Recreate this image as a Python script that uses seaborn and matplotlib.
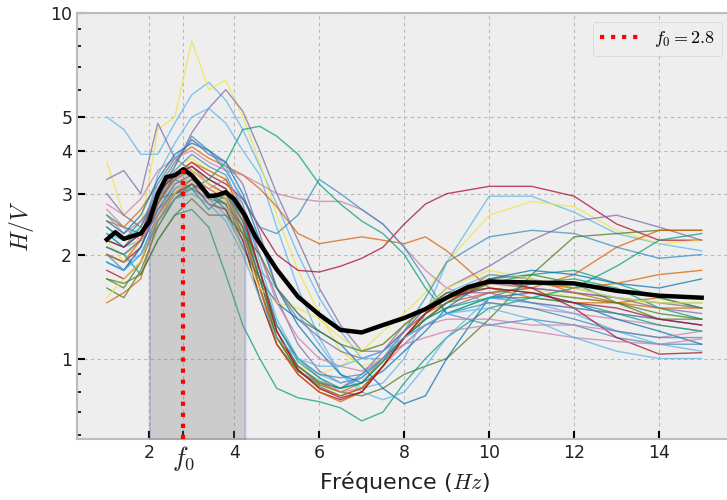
import numpy as np
import pandas as pd
import seaborn as sns
import matplotlib.pyplot as plt
from matplotlib.ticker import NullFormatter

# frequency grid of the individual H/V curves (Hz)
freq = [1.0, 1.4, 1.8, 2.2, 2.6, 3.0, 3.4, 3.8, 4.2, 4.6, 5.0, 5.5, 6.0, 6.5,
        7.0, 7.5, 8.0, 8.5, 9.0, 10.0, 11.0, 12.0, 13.0, 14.0, 15.0]

# individual H/V curves
hv_curves = [
    [5.0, 4.6, 3.9, 3.9, 4.8, 5.8, 6.3, 5.6, 4.6, 3.6, 2.8, 2.0, 1.5, 1.2, 1.0, 1.0, 1.1, 1.25, 1.35, 1.5, 1.45, 1.4, 1.35, 1.3, 1.25],
    [3.7, 2.6, 2.4, 4.6, 5.0, 8.3, 6.0, 6.4, 5.0, 3.7, 2.6, 1.8, 1.35, 1.05, 0.95, 1.0, 1.15, 1.3, 1.45, 1.65, 1.6, 1.5, 1.45, 1.45, 1.4],
    [3.3, 3.5, 3.0, 4.8, 3.8, 3.5, 3.2, 3.0, 2.6, 2.0, 1.5, 1.1, 0.92, 0.85, 0.88, 1.0, 1.15, 1.3, 1.4, 1.55, 1.6, 1.55, 1.5, 1.45, 1.4],
    [2.4, 2.2, 2.3, 2.9, 3.6, 4.5, 5.3, 6.0, 5.2, 4.0, 3.0, 2.2, 1.6, 1.25, 1.05, 1.05, 1.2, 1.35, 1.5, 1.65, 1.6, 1.55, 1.5, 1.4, 1.35],
    [2.3, 2.1, 2.2, 3.4, 4.2, 5.0, 5.3, 4.8, 4.0, 3.4, 2.4, 1.6, 1.15, 0.9, 0.82, 0.85, 1.0, 1.35, 1.9, 2.95, 2.95, 2.65, 2.3, 2.15, 2.05],
    [2.0, 1.9, 2.1, 2.8, 3.4, 3.7, 3.4, 3.2, 2.9, 2.4, 2.0, 1.8, 1.78, 1.85, 1.95, 2.1, 2.45, 2.8, 3.0, 3.15, 3.15, 2.95, 2.45, 2.2, 2.2],
    [2.2, 1.9, 2.3, 3.0, 3.6, 3.8, 3.5, 3.3, 2.6, 1.6, 1.15, 0.95, 0.9, 0.95, 1.05, 1.2, 1.35, 1.55, 1.9, 2.6, 2.85, 2.75, 2.35, 2.15, 2.2],
    [2.0, 1.8, 2.0, 2.6, 3.1, 3.3, 3.0, 2.8, 2.3, 1.6, 1.15, 0.92, 0.85, 0.82, 0.88, 1.0, 1.2, 1.5, 1.9, 2.25, 2.35, 2.3, 2.1, 1.95, 2.0],
    [1.9, 1.8, 2.1, 2.7, 3.0, 3.2, 3.0, 2.9, 2.4, 1.7, 1.2, 0.95, 0.85, 0.82, 0.9, 1.05, 1.25, 1.4, 1.6, 1.85, 2.2, 2.5, 2.6, 2.4, 2.2],
    [1.7, 1.6, 1.9, 2.5, 2.9, 3.1, 2.9, 2.8, 2.2, 1.5, 1.1, 0.92, 0.84, 0.8, 0.78, 0.82, 0.9, 0.95, 1.0, 1.3, 1.75, 2.25, 2.3, 2.35, 2.35],
    [2.1, 2.0, 2.2, 2.9, 3.3, 3.5, 3.2, 3.0, 2.4, 1.6, 1.15, 0.95, 0.85, 0.8, 0.85, 1.0, 1.2, 1.35, 1.45, 1.55, 1.6, 1.75, 2.1, 2.35, 2.35],
    [2.3, 2.1, 2.4, 3.0, 3.4, 3.6, 3.3, 3.1, 2.5, 1.7, 1.2, 0.95, 0.86, 0.82, 0.85, 0.98, 1.15, 1.3, 1.4, 1.5, 1.5, 1.6, 1.85, 2.2, 2.3],
    [2.5, 2.4, 2.7, 3.2, 3.8, 4.1, 3.8, 3.6, 3.4, 3.1, 2.75, 2.3, 2.15, 2.2, 2.25, 2.2, 2.15, 2.25, 2.05, 1.6, 1.5, 1.45, 1.45, 1.5, 1.4],
    [2.8, 2.6, 2.9, 3.5, 3.8, 4.0, 3.7, 3.5, 3.4, 3.2, 3.0, 2.9, 2.85, 2.85, 2.7, 2.45, 2.1, 1.8, 1.6, 1.45, 1.4, 1.35, 1.3, 1.25, 1.2],
    [2.2, 2.1, 2.3, 3.0, 3.6, 4.4, 4.0, 3.5, 2.9, 2.4, 2.3, 2.6, 3.3, 3.0, 2.7, 2.45, 2.1, 1.7, 1.35, 1.25, 1.3, 1.25, 1.15, 1.1, 1.1],
    [2.4, 2.2, 2.5, 2.9, 3.0, 3.1, 3.3, 3.7, 4.6, 4.7, 4.4, 3.9, 3.2, 2.8, 2.5, 2.3, 2.0, 1.6, 1.35, 1.5, 1.65, 1.7, 1.6, 1.4, 1.3],
    [2.1, 2.0, 1.75, 2.2, 2.6, 2.7, 2.4, 1.75, 1.25, 1.0, 0.82, 0.77, 0.75, 0.72, 0.66, 0.7, 0.85, 1.0, 1.15, 1.4, 1.5, 1.45, 1.35, 1.25, 1.2],
    [1.9, 1.8, 2.1, 2.7, 3.2, 3.4, 3.0, 2.7, 2.1, 1.7, 1.45, 1.3, 1.2, 1.1, 0.95, 0.82, 0.74, 0.78, 1.0, 1.5, 1.55, 1.45, 1.3, 1.2, 1.1],
    [2.0, 1.9, 2.0, 2.4, 2.9, 3.1, 2.9, 2.6, 2.1, 1.8, 1.6, 1.35, 1.1, 0.9, 0.8, 0.76, 0.8, 0.95, 1.15, 1.5, 1.45, 1.35, 1.2, 1.1, 1.05],
    [1.8, 1.7, 1.9, 2.6, 3.0, 3.2, 2.8, 2.7, 2.2, 1.5, 1.1, 0.9, 0.8, 0.76, 0.8, 0.95, 1.15, 1.3, 1.45, 1.7, 1.6, 1.4, 1.15, 1.03, 1.04],
    [2.6, 2.3, 2.5, 2.9, 3.3, 3.6, 3.2, 3.0, 2.5, 1.8, 1.25, 1.0, 0.88, 0.8, 0.82, 0.95, 1.1, 1.25, 1.3, 1.3, 1.25, 1.25, 1.2, 1.15, 1.2],
    [1.6, 1.5, 1.8, 2.4, 2.9, 3.2, 3.0, 2.8, 2.4, 1.7, 1.15, 0.92, 0.83, 0.78, 0.82, 0.95, 1.15, 1.35, 1.5, 1.7, 1.75, 1.65, 1.45, 1.3, 1.3],
    [1.45, 1.55, 1.7, 2.5, 3.0, 3.3, 3.1, 2.9, 2.3, 1.6, 1.1, 0.9, 0.8, 0.75, 0.8, 0.95, 1.15, 1.3, 1.45, 1.75, 1.7, 1.55, 1.45, 1.4, 1.4],
    [2.3, 2.2, 2.4, 3.2, 3.8, 4.3, 4.0, 3.6, 2.8, 1.9, 1.3, 1.0, 0.9, 0.85, 0.88, 1.0, 1.2, 1.4, 1.55, 1.75, 1.7, 1.6, 1.5, 1.45, 1.45],
    [2.6, 2.4, 2.3, 2.8, 3.3, 3.1, 2.7, 3.0, 2.5, 1.8, 1.25, 0.98, 0.88, 0.82, 0.85, 0.98, 1.15, 1.3, 1.45, 1.65, 1.75, 1.8, 1.65, 1.5, 1.4],
    [1.5, 1.7, 1.9, 2.6, 3.0, 3.5, 3.2, 2.9, 2.0, 1.6, 1.45, 1.4, 1.3, 1.15, 1.05, 1.1, 1.25, 1.4, 1.6, 1.8, 1.7, 1.6, 1.5, 1.45, 1.45],
    [2.5, 2.3, 2.6, 3.3, 3.9, 4.2, 4.0, 3.7, 3.0, 2.2, 1.6, 1.25, 1.05, 0.9, 0.85, 0.92, 1.05, 1.2, 1.4, 1.7, 1.8, 1.75, 1.65, 1.6, 1.7],
    [2.1, 2.0, 2.2, 2.9, 3.5, 3.9, 3.6, 3.4, 2.7, 1.8, 1.25, 1.0, 0.9, 0.88, 0.9, 1.0, 1.15, 1.25, 1.35, 1.45, 1.4, 1.3, 1.2, 1.15, 1.15],
    [3.0, 2.6, 2.4, 3.1, 3.7, 4.3, 3.9, 3.7, 3.2, 2.3, 1.6, 1.3, 1.15, 1.05, 1.0, 1.05, 1.2, 1.4, 1.55, 1.55, 1.45, 1.4, 1.35, 1.3, 1.25],
    [2.7, 2.4, 2.2, 2.6, 3.2, 3.4, 3.1, 3.3, 2.8, 2.0, 1.45, 1.15, 1.0, 0.95, 0.92, 1.0, 1.1, 1.15, 1.2, 1.25, 1.2, 1.15, 1.12, 1.1, 1.14],
    [1.7, 1.65, 1.75, 2.2, 2.6, 2.9, 2.6, 2.6, 2.3, 2.0, 1.6, 1.35, 1.2, 1.1, 1.05, 1.1, 1.25, 1.4, 1.55, 1.6, 1.55, 1.5, 1.45, 1.35, 1.3],
    [2.0, 1.9, 2.2, 2.8, 3.4, 3.7, 3.5, 3.3, 2.6, 1.8, 1.2, 0.93, 0.82, 0.78, 0.82, 0.95, 1.15, 1.35, 1.5, 1.65, 1.65, 1.6, 1.65, 1.75, 1.8],
    [2.2, 2.1, 2.3, 3.0, 3.4, 3.6, 3.3, 3.1, 2.6, 1.8, 1.2, 0.93, 0.82, 0.77, 0.8, 0.95, 1.15, 1.35, 1.5, 1.6, 1.55, 1.45, 1.4, 1.3, 1.25],
    [1.9, 1.8, 2.0, 2.5, 2.9, 3.0, 2.8, 2.5, 2.0, 1.5, 1.15, 1.0, 0.95, 0.95, 1.0, 1.05, 1.15, 1.25, 1.35, 1.4, 1.3, 1.15, 1.05, 1.0, 1.0],
]

curve_colors = [
    '#56B4E9', '#F0E442', '#7A68A6', '#7A68A6', '#56B4E9', '#A60628', '#F0E442',
    '#348ABD', '#7A68A6', '#467821', '#D55E00', '#009E73', '#D55E00', '#CC79A7',
    '#348ABD', '#009E73', '#009E73', '#0072B2', '#56B4E9', '#A60628', '#CC79A7',
    '#467821', '#D55E00', '#56B4E9', '#009E73', '#F0E442', '#0072B2', '#348ABD',
    '#7A68A6', '#CC79A7', '#467821', '#D55E00', '#A60628', '#56B4E9',
]

# mean H/V curve
mean_freq = [1.0, 1.2, 1.4, 1.6, 1.8, 2.0, 2.2, 2.4, 2.6, 2.8, 3.0, 3.2, 3.4, 3.6,
             3.8, 4.0, 4.25, 4.5, 5.0, 5.5, 6.0, 6.5, 7.0, 7.5, 8.0, 8.5, 9.0,
             9.5, 10.0, 11.0, 12.0, 13.0, 14.0, 15.0]
mean_hv = [2.21, 2.32, 2.22, 2.26, 2.30, 2.49, 2.99, 3.35, 3.39, 3.53, 3.39, 3.17,
           2.95, 2.97, 3.03, 2.89, 2.60, 2.25, 1.81, 1.51, 1.34, 1.21, 1.19, 1.25,
           1.31, 1.39, 1.50, 1.61, 1.67, 1.66, 1.65, 1.57, 1.52, 1.50]

f0 = 2.8
band_low, band_high = 2.0, 4.25

plt.style.use('bmh')
plt.rcParams['mathtext.fontset'] = 'cm'
plt.rcParams['font.family'] = ['DejaVu Sans']

fig = plt.figure(figsize=(7.27, 5.0), dpi=100)
ax = fig.add_axes([0.106, 0.122, 0.9, 0.852])

rows = []
for i, vals in enumerate(hv_curves):
    for f, v in zip(freq, vals):
        rows.append({'freq': f, 'hv': v, 'curve': i})
df = pd.DataFrame(rows)

sns.lineplot(data=df, x='freq', y='hv', hue='curve', estimator=None,
             palette=dict(enumerate(curve_colors)), legend=False,
             lw=1, alpha=0.72, ax=ax, zorder=2)

mf = np.array(mean_freq)
mh = np.array(mean_hv)
inband = (mf >= band_low) & (mf <= band_high)
ax.fill_between(mf[inband], mh[inband], 0.3, facecolor='gray',
                edgecolor='#6a6ad8', alpha=0.3, lw=1.5, zorder=3)

sns.lineplot(x=mean_freq, y=mean_hv, color='black', lw=3.2, ax=ax, zorder=4)

ylow = 0.585
ax.vlines(f0, ylow, np.interp(f0, mf, mh), colors='red', linestyles=':',
          lw=3, zorder=5, label=r'$f_0 = 2.8$')

ax.set_yscale('log')
ax.set_xlim(0.3, 15.7)
ax.set_ylim(ylow, 10)
ax.set_yticks([1, 2, 3, 4, 5, 10])
ax.set_yticklabels(['1', '2', '3', '4', '5', '10'])
ax.yaxis.set_minor_formatter(NullFormatter())
ax.set_xticks([2, f0, 4, 6, 8, 10, 12, 14])
ax.set_xticklabels(['2', '$f_0$', '4', '6', '8', '10', '12', '14'])

ax.tick_params(which='major', direction='in', length=6, width=1.5,
               color='black', labelsize=12.5, labelcolor='#222222',
               top=False, right=False)
ax.tick_params(which='minor', direction='in', length=3, width=1.2,
               color='black', top=False, right=False)
ax.tick_params(axis='x', which='minor', bottom=False)
ax.get_xticklabels()[1].set_fontsize(19)

ax.grid(True, which='major', linestyle=(0, (3, 3)), color='#b8b8b8', lw=0.8)
ax.grid(False, which='minor')
for s in ax.spines.values():
    s.set_color('#bcbcbc')
    s.set_linewidth(1.5)

ax.set_xlabel('Fréquence ($Hz$)', fontsize=16, color='#222222', labelpad=-3)
ax.set_ylabel('$H/V$', fontsize=17, color='#222222', labelpad=10)

ax.legend(loc='upper right', fontsize=13, handlelength=2.2)

fig.savefig('out.png', dpi=100)
